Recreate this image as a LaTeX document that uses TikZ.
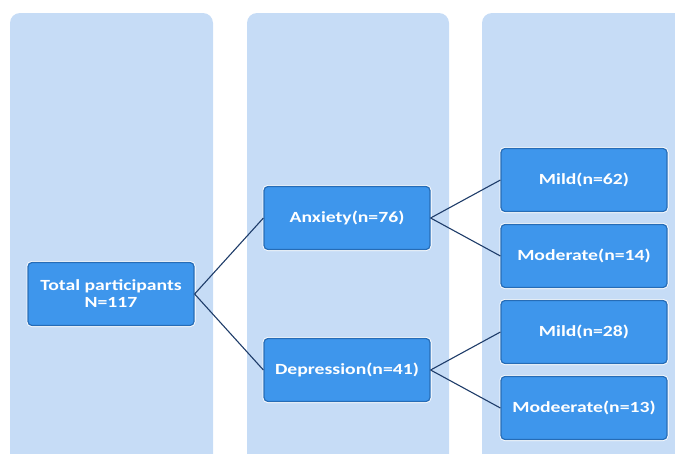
\documentclass[tikz,border=0pt]{standalone}
\usepackage{fontspec}
\setmainfont{Carlito}[FakeStretch=1.27]
\definecolor{panelColor}{RGB}{198,220,246}
\definecolor{boxColor}{RGB}{62,150,236}
\definecolor{boxBorder}{RGB}{38,108,182}
\definecolor{lineColor}{RGB}{30,60,105}
\tikzstyle{panelStyle} = [fill=panelColor, rounded corners=10pt]
\tikzstyle{levelBox} = [draw=boxBorder, fill=boxColor, rounded corners=4pt, line width=1.2pt,
  preaction={draw=white, line width=3pt}, text=white, font=\bfseries\fontsize{15.5}{17}\selectfont,
  minimum width=166pt, minimum height=63pt, align=center, inner sep=0pt]
\tikzstyle{branchLine} = [draw=lineColor, line width=1.1pt]

\begin{document}
\begin{tikzpicture}[x=1pt, y=-1pt]
  \useasboundingbox (0,0) rectangle (675,453);
  % background panels
  \begin{scope}
    \clip (0,0) rectangle (675,453);
    \fill [panelStyle] (10,13) rectangle (213,470);
    \fill [panelStyle] (247,13) rectangle (449,470);
    \fill [panelStyle] (482,13) rectangle (700,470);
  \end{scope}

  \node [levelBox] (total) at (111,294) {Total participants\\N=117};
  \node [levelBox] (anxiety) at (347,218) {Anxiety(n=76)};
  \node [levelBox] (depression) at (347,370) {Depression(n=41)};
  \node [levelBox] (anxMild) at (584,180) {Mild(n=62)};
  \node [levelBox] (anxModerate) at (584,256) {Moderate(n=14)};
  \node [levelBox] (depMild) at (584,332) {Mild(n=28)};
  \node [levelBox] (depModerate) at (584,408) {Modeerate(n=13)};

  \draw [branchLine] (total.east) -- (anxiety.west);
  \draw [branchLine] (total.east) -- (depression.west);
  \draw [branchLine] (anxiety.east) -- (anxMild.west);
  \draw [branchLine] (anxiety.east) -- (anxModerate.west);
  \draw [branchLine] (depression.east) -- (depMild.west);
  \draw [branchLine] (depression.east) -- (depModerate.west);
\end{tikzpicture}
\end{document}
